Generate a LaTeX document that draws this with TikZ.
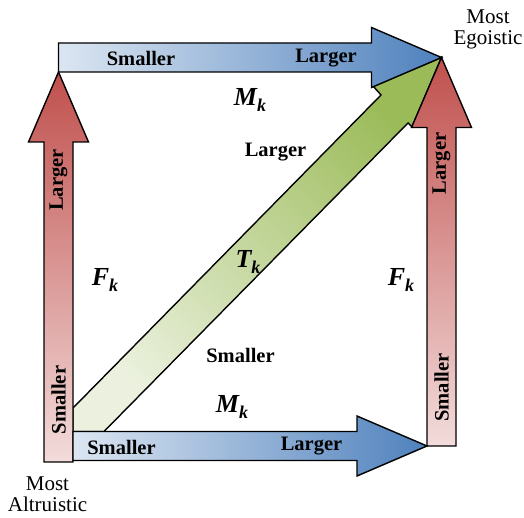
\documentclass[tikz,border=0pt]{standalone}
\usepackage{fontspec}
\setmainfont{Liberation Serif}

% bold italic symbol with a lowered index
\newcommand{\varsub}[2]{\textbf{\textit{#1\raisebox{-6.5pt}{\fontsize{18}{18}\selectfont #2}}}}

\begin{document}
\begin{tikzpicture}[x=1pt, y=1pt]

% =======================================================
% Color definitions
% =======================================================
\definecolor{blueL}{HTML}{DCE6F2}   % M_k, small end
\definecolor{blueD}{HTML}{4F81BD}   % M_k, large end
\definecolor{redL}{HTML}{F2DCDB}    % F_k, small end
\definecolor{redD}{HTML}{C0504D}    % F_k, large end
\definecolor{greenL}{HTML}{EBF1DE}  % T_k, small end
\definecolor{greenD}{HTML}{9BBB59}  % T_k, large end

% =======================================================
% Layout parameters
% =======================================================
\def\sw{14.5}   % half shaft width
\def\hw{30}     % half head width
\def\hl{70}     % head length
\def\ex{441.5}  % most egoistic corner, x
\def\ey{460.5}  % most egoistic corner, y
\def\lx{58.5}   % axis of the left arrow
\def\by{72}     % axis of the bottom arrow

% =======================================================
% Styles
% =======================================================
\tikzset{
  block/.style  = {draw=black, line width=1.4pt, line join=miter},
  lbl/.style    = {font=\fontsize{20.5}{22}\selectfont\bfseries, inner sep=0pt},
  symlbl/.style = {font=\fontsize{26}{28}\selectfont, inner sep=0pt},
  corner/.style = {font=\fontsize{21}{21}\selectfont, align=center, inner sep=0pt},
}

\useasboundingbox (0,0) rectangle (524,518);

\coordinate (ego) at (\ex,\ey);

% =======================================================
% T_k: diagonal arrow (tail hidden under the others)
% =======================================================
\shade[block, top color=greenD, bottom color=greenL, shading angle=-45]
    ({\lx+\sw},110) -- ({\lx+\sw},{\by+\sw}) -- (104,{\by+\sw})
    -- (408,395) -- (412,391) -- (ego)
    -- (373,432) -- (381,423) -- cycle;

% =======================================================
% F_k: left and right arrows
% =======================================================
\shade[block, bottom color=redL, top color=redD]
    ({\lx-\sw},56) -- ({\lx-\sw},{\ey-\sw-\hl}) -- ({\lx-\hw},{\ey-\sw-\hl})
    -- (\lx,{\ey-\sw})
    -- ({\lx+\hw},{\ey-\sw-\hl}) -- ({\lx+\sw},{\ey-\sw-\hl}) -- ({\lx+\sw},56) -- cycle;

\shade[block, bottom color=redL, top color=redD]
    ({\ex-\sw},\by) -- ({\ex-\sw},{\ey-\hl}) -- ({\ex-\hw},{\ey-\hl})
    -- (ego)
    -- ({\ex+\hw},{\ey-\hl}) -- ({\ex+\sw},{\ey-\hl}) -- ({\ex+\sw},\by) -- cycle;

% =======================================================
% M_k: top and bottom arrows
% =======================================================
\shade[block, left color=blueL, right color=blueD]
    (\lx,{\ey-\sw}) -- ({\ex-\hl},{\ey-\sw}) -- ({\ex-\hl},{\ey-\hw})
    -- (ego)
    -- ({\ex-\hl},{\ey+\hw}) -- ({\ex-\hl},{\ey+\sw}) -- (\lx,{\ey+\sw}) -- cycle;

\shade[block, left color=blueL, right color=blueD]
    ({\lx+\sw},{\by-\sw}) -- ({\ex-\sw-\hl},{\by-\sw}) -- ({\ex-\sw-\hl},{\by-\hw})
    -- ({\ex-\sw},\by)
    -- ({\ex-\sw-\hl},{\by+\hw}) -- ({\ex-\sw-\hl},{\by+\sw}) -- ({\lx+\sw},{\by+\sw}) -- cycle;

% =======================================================
% Labels on the arrows
% =======================================================
\node[lbl] (topS) at (141,460) {Smaller};
\node[lbl] (topL) at (326,460) {Larger};
\node[lbl] (botS) at (121.5,71) {Smaller};
\node[lbl] (botL) at (311.5,72) {Larger};

\node[lbl, rotate=90] (leftL)  at (\lx,338)   {Larger};
\node[lbl, rotate=90] (leftS)  at (\lx,118)   {Smaller};
\node[lbl, rotate=90] (rightL) at (\ex,354.5) {Larger};
\node[lbl, rotate=90] (rightS) at (\ex,130.5) {Smaller};

\node[lbl] (diagL) at (275.5,366) {Larger};
\node[lbl] (diagS) at (240.5,163) {Smaller};

% symbols
\node[symlbl] (mtop)   at (250,418) {\varsub{M}{k}};
\node[symlbl] (mbot)   at (232,111) {\varsub{M}{k}};
\node[symlbl] (fleft)  at (105,238) {\varsub{F}{k}};
\node[symlbl] (fright) at (401,238) {\varsub{F}{k}};
\node[symlbl] (tdiag)  at (248,256) {\varsub{T}{k}};

% corners
\node[corner] (egoLbl) at (488,489) {Most\\Egoistic};
\node[corner] (altLbl) at (47.5,24) {Most\\Altruistic};

\end{tikzpicture}
\end{document}
